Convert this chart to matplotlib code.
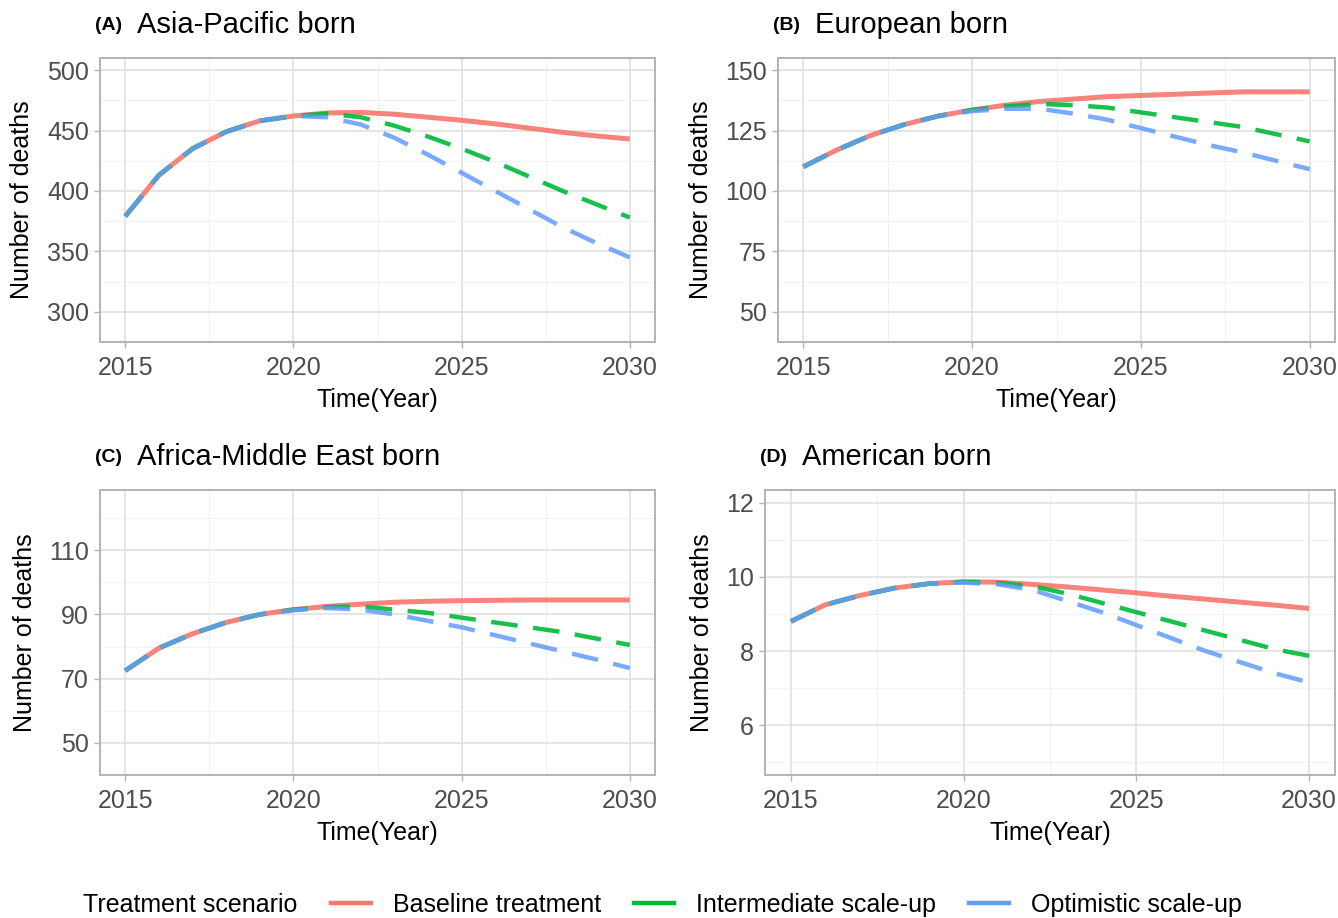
import matplotlib
matplotlib.use("Agg")
import matplotlib.pyplot as plt
from matplotlib.lines import Line2D
import numpy as np

plt.rcParams['font.family'] = ['Liberation Sans', 'DejaVu Sans']

years = list(range(2015, 2031))

# (A) Asia-Pacific born
asia_base = [379, 413, 435, 449, 458, 462, 464.5, 465, 463.5, 461, 458.5, 455.5, 452, 448.5, 445.5, 443]
asia_inter = [379, 413, 435, 449, 458, 462, 464, 461, 454, 445, 435, 424, 412, 400, 389, 378]
asia_opt = [379, 413, 435, 449, 458, 462, 461, 455, 444, 430, 415, 400, 385, 370, 357, 345]

# (B) European born
euro_base = [110, 117, 123, 127.5, 131, 133.5, 135.5, 137, 138, 139, 139.5, 140, 140.5, 141, 141, 141]
euro_inter = [110, 117, 123, 127.5, 131, 133.5, 135, 136, 135.5, 134.5, 132.5, 130.5, 128.5, 126.5, 123.5, 120.5]
euro_opt = [110, 117, 123, 127.5, 131, 133, 134, 134, 132, 129.5, 126, 122.5, 119, 116, 112.5, 109]

# (C) Africa-Middle East born
afr_base = [72.5, 79.5, 84, 87.5, 90, 91.5, 92.5, 93.2, 93.8, 94.1, 94.3, 94.4, 94.5, 94.5, 94.5, 94.5]
afr_inter = [72.5, 79.5, 84, 87.5, 90, 91.5, 92.3, 92.5, 91.5, 90.5, 89, 87.5, 86, 84.5, 82.5, 80.5]
afr_opt = [72.5, 79.5, 84, 87.5, 90, 91.3, 92, 91.5, 90, 88, 86, 83.5, 81, 78.5, 76, 73.3]

# (D) American born
amer_base = [8.8, 9.25, 9.5, 9.7, 9.82, 9.87, 9.86, 9.8, 9.73, 9.65, 9.57, 9.48, 9.4, 9.32, 9.24, 9.15]
amer_inter = [8.8, 9.25, 9.5, 9.7, 9.82, 9.87, 9.84, 9.75, 9.55, 9.3, 9.05, 8.8, 8.55, 8.3, 8.05, 7.87]
amer_opt = [8.8, 9.25, 9.5, 9.7, 9.82, 9.85, 9.8, 9.65, 9.35, 9.05, 8.7, 8.35, 8.0, 7.7, 7.4, 7.15]

panels = [
    ("(A)", "Asia-Pacific born", asia_base, asia_inter, asia_opt, (300, 500), [300, 350, 400, 450, 500]),
    ("(B)", "European born", euro_base, euro_inter, euro_opt, (50, 150), [50, 75, 100, 125, 150]),
    ("(C)", "Africa-Middle East born", afr_base, afr_inter, afr_opt, (50, 125), [50, 70, 90, 110]),
    ("(D)", "American born", amer_base, amer_inter, amer_opt, (5, 12), [6, 8, 10, 12]),
]

RED = "#F8766D"
GREEN = "#00BA38"
BLUE = "#619CFF"

fig = plt.figure(figsize=(13.38, 9.18), dpi=100)
W, H = 1338, 918
# axes boxes in pixels: left, top, right, bottom
boxes = [(100, 58, 655, 342), (778, 58, 1335, 342), (100, 490, 655, 775), (765, 490, 1335, 775)]

for (tag, name, base, inter, opt, ylim, yt), (l, t, r, b) in zip(panels, boxes):
    ax = fig.add_axes([l / W, 1 - b / H, (r - l) / W, (b - t) / H])
    ax.plot(years, base, color=RED, lw=3.6, alpha=0.9, solid_capstyle='butt', zorder=3)
    ax.plot(years, inter, color=GREEN, lw=3.2, alpha=0.9, ls=(0, (6, 3.5)), zorder=4)
    ax.plot(years, opt, color=BLUE, lw=3.2, alpha=0.85, ls=(0, (6, 3.5)), zorder=5)

    ax.set_xlim(2014.25, 2030.75)
    rng = ylim[1] - ylim[0]
    ax.set_ylim(ylim[0] - 0.05 * rng, ylim[1] + 0.05 * rng)
    ax.set_xticks([2015, 2020, 2025, 2030])
    ax.set_yticks(yt)
    ax.set_xticks([2017.5, 2022.5, 2027.5], minor=True)
    step = yt[1] - yt[0]
    ax.set_yticks(np.arange(yt[0] - step / 2, ylim[1] + 0.05 * rng, step), minor=True)
    ax.grid(which='major', color='#DEDEDE', lw=1.1)
    ax.grid(which='minor', color='#EFEFEF', lw=0.6)
    ax.set_axisbelow(True)
    for s in ax.spines.values():
        s.set_color('#B3B3B3')
        s.set_linewidth(1.4)
    ax.tick_params(which='major', colors='#B3B3B3', length=4, width=1, labelcolor='#4D4D4D',
                   labelsize=18, pad=4)
    ax.tick_params(axis='x', which='major', pad=6)
    ax.tick_params(which='minor', length=0)
    ax.set_xlabel("Time(Year)", fontsize=18, labelpad=6)
    ax.set_ylabel("Number of deaths", fontsize=18, labelpad=9)

    # panel title
    tx = l - 5
    ty = t - 33
    fig.text(tx / W, 1 - ty / H, tag, fontsize=14, fontweight='bold', va='center', ha='left')
    fig.text((tx + 42) / W, 1 - ty / H, name, fontsize=21, va='center', ha='left')

# legend
fig.text(83 / W, 1 - 905 / H, "Treatment scenario", fontsize=18, va='center', ha='left')
handles = [Line2D([], [], color=RED, lw=3.2),
           Line2D([], [], color=GREEN, lw=3.2),
           Line2D([], [], color=BLUE, lw=3.2)]
labels = ["Baseline treatment", "Intermediate scale-up", "Optimistic scale-up"]
fig.legend(handles, labels, loc='center left', bbox_to_anchor=(313 / W, 1 - 905 / H), ncol=3,
           frameon=False, fontsize=18, handlelength=1.6, handletextpad=0.9, columnspacing=1.3,
           borderpad=0.2)

fig.savefig("out.png", dpi=100, facecolor='white')
